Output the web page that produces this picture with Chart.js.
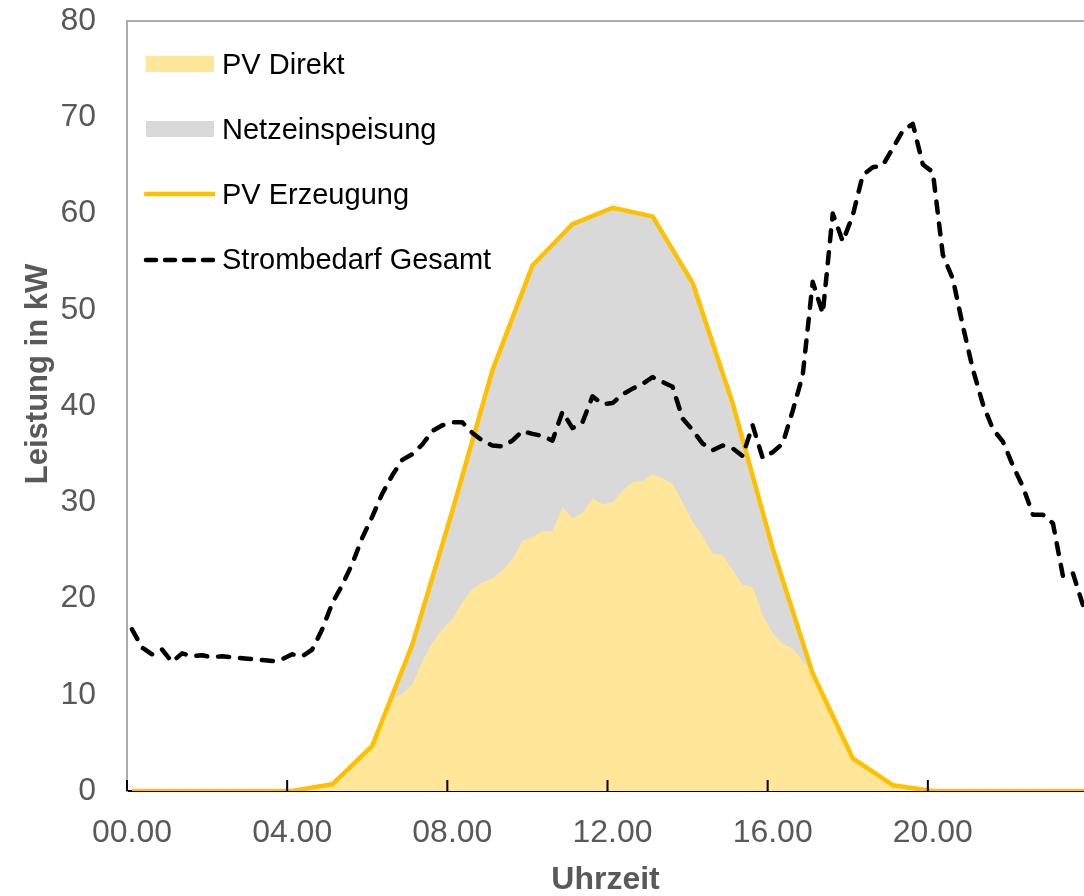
<!DOCTYPE html>
<html lang="de">
<head>
<meta charset="utf-8">
<title>PV Erzeugung und Strombedarf</title>
<script src="https://cdn.jsdelivr.net/npm/chart.js@4.4.1/dist/chart.umd.min.js"></script>
<style>
  html, body { margin: 0; padding: 0; background: #fff; }
  #wrap { position: relative; width: 1084px; height: 896px; overflow: hidden; }
  #legend { position: absolute; left: 143px; top: 0; font: 29px "Liberation Sans", Arial, sans-serif; color: #000; }
  .item { position: absolute; left: 0; display: flex; align-items: center; height: 30px; white-space: nowrap; }
  .item span { margin-left: 7px; line-height: 1; }
  .item svg { display: block; }
</style>
</head>
<body>
<div id="wrap">
  <canvas id="chart"></canvas>
  <div id="legend"></div>
</div>
<script>
// PV-Erzeugung als Stundenwerte (kW), 00 bis 24 Uhr
const pvHours = [0, 1, 2, 3, 4, 5, 6, 7, 8, 9, 10, 11, 12, 13, 14, 15, 16, 17, 18, 19, 20, 21, 22, 23, 24];
const pvErzeugung = [0, 0, 0, 0, 0, 0.7, 4.7, 15.2, 29.1, 43.7, 54.6, 58.9, 60.6, 59.7, 52.8, 40.3, 25.2, 12.2, 3.4, 0.6, 0, 0, 0, 0, 0];

// 15-Minuten-Werte (96 Intervalle ab 00.00)
const pvDirekt = [
  0, 0, 0, 0, 0, 0, 0, 0, 0, 0,
  0, 0, 0, 0, 0, 0, 0, 0.2, 0.4, 0.5,
  0.7, 1.7, 2.7, 3.7, 4.7, 7.0, 9.5, 10.1, 11.1, 13.5,
  15.4, 16.8, 17.9, 19.6, 21.0, 21.7, 22.1, 22.9, 24.1, 26.0,
  26.4, 27.0, 27.0, 29.5, 28.3, 28.9, 30.4, 29.8, 30.0, 31.2,
  32.1, 32.2, 32.9, 32.5, 31.9, 30.0, 28.0, 26.5, 24.7, 24.5,
  23.0, 21.4, 21.2, 18.3, 16.4, 15.3, 14.8, 13.5, 12.2, 10.0,
  7.8, 5.6, 3.4, 2.7, 2.0, 1.3, 0.6, 0.45, 0.3, 0.15,
  0, 0, 0, 0, 0, 0, 0, 0, 0, 0,
  0, 0, 0, 0, 0, 0
];
const strombedarf = [
  16.8, 14.9, 14.2, 14.7, 13.4, 14.3, 14.0, 14.1, 13.9, 14.0,
  13.9, 13.8, 13.7, 13.6, 13.5, 13.7, 14.2, 14.0, 14.7, 16.8,
  19.5, 21.4, 23.6, 26.3, 28.5, 30.9, 32.8, 34.4, 35.0, 36.0,
  37.4, 38.0, 38.3, 38.3, 37.2, 36.4, 35.9, 35.8, 36.4, 37.4,
  37.1, 36.9, 36.4, 39.4, 37.7, 38.3, 41.0, 40.2, 40.3, 41.2,
  41.8, 42.3, 43.0, 42.5, 42.0, 38.7, 37.5, 36.1, 35.4, 35.9,
  35.6, 34.8, 38.0, 34.6, 35.2, 36.1, 39.5, 43.2, 52.9, 49.6,
  60.0, 57.1, 59.8, 64.0, 64.8, 65.0, 66.8, 68.6, 69.3, 65.1,
  64.3, 55.7, 53.2, 48.3, 43.8, 40.2, 37.6, 36.3, 33.8, 31.6,
  28.7, 28.7, 27.8, 22.3, 22.6, 19.3
];

const tickHours = [0, 4, 8, 12, 16, 20];
const tickLabels = ['00.00', '04.00', '08.00', '12.00', '16.00', '20.00'];

const FONT = '"Liberation Sans", Arial, sans-serif';
const GREY_TEXT = '#595959';
const BIN = 0.25; // 15 Minuten

// jeder Wert steht in der Mitte seines Intervalls (wie in der Excel-Vorlage)
const pvPoints = pvErzeugung.map((v, k) => ({ x: pvHours[k] + BIN / 2, y: v }));
const direktPoints = pvDirekt.map((v, i) => ({ x: i * BIN + BIN / 2, y: v }));
const bedarfPoints = strombedarf.map((v, i) => ({ x: i * BIN + BIN / 2, y: v }));

Chart.defaults.font.family = FONT;

const legendItems = [
  { label: 'PV Direkt', kind: 'box', color: '#FFE699' },
  { label: 'Netzeinspeisung', kind: 'box', color: '#D9D9D9' },
  { label: 'PV Erzeugung', kind: 'line', color: '#FFC000' },
  { label: 'Strombedarf Gesamt', kind: 'dash', color: '#000000' }
];

const frame = {
  id: 'frame',
  beforeDatasetsDraw(chart) {
    const { ctx, chartArea: a } = chart;
    ctx.save();
    ctx.strokeStyle = '#ABABAB';
    ctx.lineWidth = 2;
    ctx.beginPath();
    ctx.moveTo(a.left, a.top);
    ctx.lineTo(a.right, a.top);
    ctx.stroke();
    ctx.restore();
  },
  afterDatasetsDraw(chart) {
    const { ctx, chartArea: a, scales: { x } } = chart;
    ctx.save();
    ctx.strokeStyle = '#000';
    ctx.lineWidth = 2;
    ctx.beginPath();
    tickHours.forEach(h => {
      const px = x.getPixelForValue(h);
      ctx.moveTo(px, a.bottom);
      ctx.lineTo(px, a.bottom - 11);
    });
    ctx.stroke();
    ctx.restore();
  },
  afterDraw(chart) {
    const { ctx } = chart;
    ctx.save();
    ctx.translate(38, 374);
    ctx.rotate(-Math.PI / 2);
    ctx.font = 'bold 31px ' + FONT;
    ctx.fillStyle = GREY_TEXT;
    ctx.textAlign = 'center';
    ctx.textBaseline = 'middle';
    ctx.fillText('Leistung in kW', 0, 0);
    ctx.restore();
  }
};

new Chart(document.getElementById('chart'), {
  type: 'line',
  data: {
    datasets: [
      {
        label: 'Strombedarf Gesamt',
        data: bedarfPoints,
        borderColor: '#000',
        borderWidth: 4.5,
        borderDash: [11, 11],
        borderCapStyle: 'round',
        borderJoinStyle: 'round',
        pointRadius: 0,
        fill: false,
        order: 0
      },
      {
        label: 'PV Erzeugung',
        data: pvPoints,
        borderColor: '#FFC000',
        borderWidth: 4.5,
        borderJoinStyle: 'round',
        pointRadius: 0,
        fill: false,
        order: 1
      },
      {
        label: 'PV Direkt',
        data: direktPoints,
        borderWidth: 0,
        borderColor: 'rgba(0,0,0,0)',
        backgroundColor: '#FFE699',
        pointRadius: 0,
        fill: 'origin',
        order: 2
      },
      {
        label: 'Netzeinspeisung',
        data: pvPoints,
        borderWidth: 0,
        borderColor: 'rgba(0,0,0,0)',
        backgroundColor: '#D9D9D9',
        pointRadius: 0,
        fill: 'origin',
        order: 3
      }
    ]
  },
  options: {
    responsive: true,
    maintainAspectRatio: false,
    animation: false,
    layout: { padding: { top: 21, right: 0, bottom: 0, left: 0 } },
    plugins: {
      legend: { display: false },
      tooltip: { enabled: false }
    },
    scales: {
      x: {
        type: 'linear',
        min: 0,
        max: 23.9,
        afterBuildTicks: s => { s.ticks = tickHours.map(v => ({ value: v })); },
        afterFit: s => {
          s.height = 105;
          s.paddingLeft = 0;
          s.paddingRight = 0;
        },
        grid: { display: false, drawTicks: false },
        border: { display: true, color: '#000', width: 2 },
        ticks: {
          autoSkip: false,
          maxRotation: 0,
          padding: 23,
          labelOffset: 5,
          color: GREY_TEXT,
          font: { size: 32 },
          callback: (v, i) => tickLabels[i]
        },
        title: {
          display: true,
          text: 'Uhrzeit',
          color: GREY_TEXT,
          font: { size: 32, weight: 'bold', lineHeight: 1 },
          padding: { top: 0, bottom: 0 }
        }
      },
      y: {
        min: 0,
        max: 80,
        afterFit: s => {
          s.width = 127;
          s.paddingTop = 0;
          s.paddingBottom = 0;
        },
        grid: { display: false, drawTicks: false },
        border: { display: true, color: '#ABABAB', width: 2 },
        ticks: {
          stepSize: 10,
          padding: 31,
          color: GREY_TEXT,
          font: { size: 32 }
        }
      }
    }
  },
  plugins: [frame]
});

// Legende oben links im Diagramm
const legendEl = document.getElementById('legend');
legendItems.forEach((item, k) => {
  const row = document.createElement('div');
  row.className = 'item';
  row.style.top = (64 + 65.2 * k - 15) + 'px';
  let sym;
  if (item.kind === 'box') {
    sym = '<rect x="3" y="2" width="68" height="16" fill="' + item.color + '"/>';
  } else if (item.kind === 'line') {
    sym = '<line x1="3" y1="10" x2="71" y2="10" stroke="' + item.color + '" stroke-width="4.5" stroke-linecap="round"/>';
  } else {
    sym = '<line x1="3" y1="10" x2="71" y2="10" stroke="' + item.color + '" stroke-width="4.5" stroke-dasharray="10 9" stroke-linecap="round"/>';
  }
  row.innerHTML = '<svg width="72" height="20" viewBox="0 0 72 20">' + sym + '</svg><span>' + item.label + '</span>';
  legendEl.appendChild(row);
});
</script>
</body>
</html>
